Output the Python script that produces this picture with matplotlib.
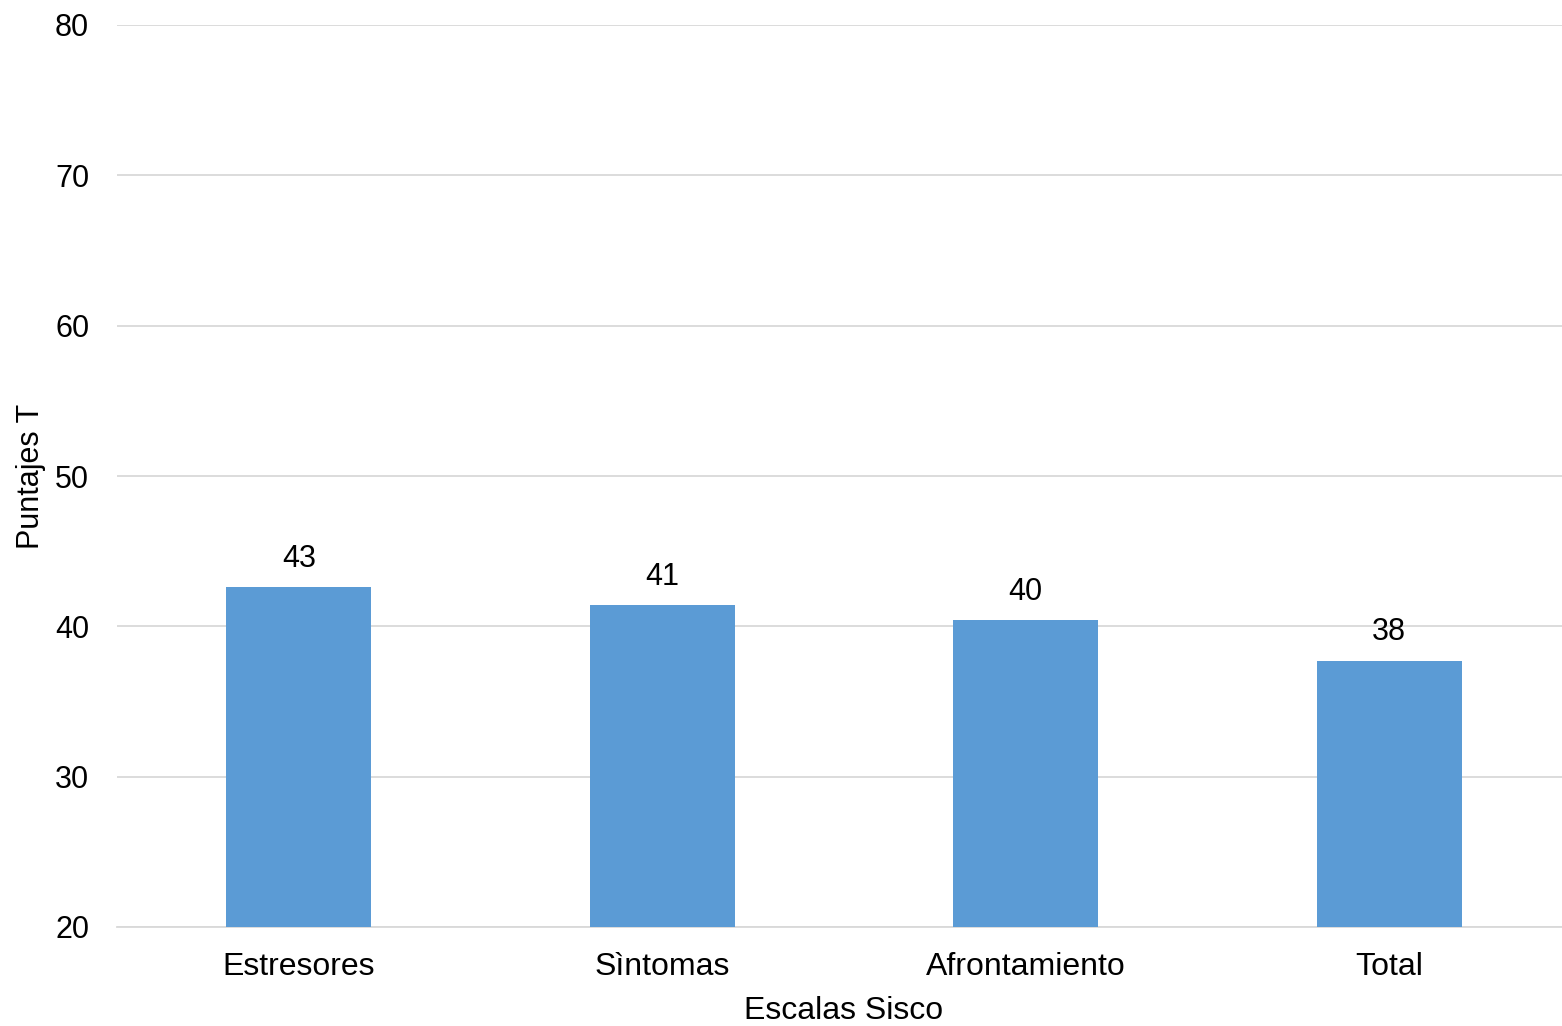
import numpy as np
import matplotlib.pyplot as plt

plt.rcParams['font.family'] = ['Liberation Sans', 'DejaVu Sans']

# Datos
categorias = ['Estresores', 'Sìntomas', 'Afrontamiento', 'Total']
puntajes = [42.6, 41.4, 40.4, 37.7]
etiquetas = ['43', '41', '40', '38']
yticks = [20, 30, 40, 50, 60, 70, 80]

fig = plt.figure(figsize=(15.62, 10.26), dpi=100)
ax = fig.add_axes([117 / 1562, 1 - 927 / 1026, 1454 / 1562, 902 / 1026])

x = np.arange(len(categorias))
bars = ax.bar(x, puntajes, width=0.4, color='#5b9bd5', zorder=3)

for b, lab in zip(bars, etiquetas):
    ax.text(b.get_x() + b.get_width() / 2, b.get_height() + 0.9, lab,
            ha='center', va='bottom', fontsize=22, color='#000000')

ax.set_xlim(-0.5, len(categorias) - 0.5)
ax.set_ylim(20, 80)
ax.set_yticks(yticks)
ax.set_xticks(x)
ax.set_xticklabels(categorias)
ax.tick_params(axis='both', length=0, labelsize=22, colors='#000000')
ax.tick_params(axis='x', labelsize=23, pad=18)
ax.tick_params(axis='y', pad=20)

ax.grid(axis='y', color='#d9d9d9', linewidth=1.3, zorder=0)
for s in ['top', 'right', 'left']:
    ax.spines[s].set_visible(False)
ax.spines['bottom'].set_color('#d9d9d9')
ax.spines['bottom'].set_linewidth(1.3)

ax.set_xlabel('Escalas Sisco', fontsize=23, labelpad=10)
ax.set_ylabel('Puntajes T', fontsize=22)
ax.yaxis.set_label_coords(-71 / 1454, 0.5)

fig.savefig('out.png', dpi=100)
